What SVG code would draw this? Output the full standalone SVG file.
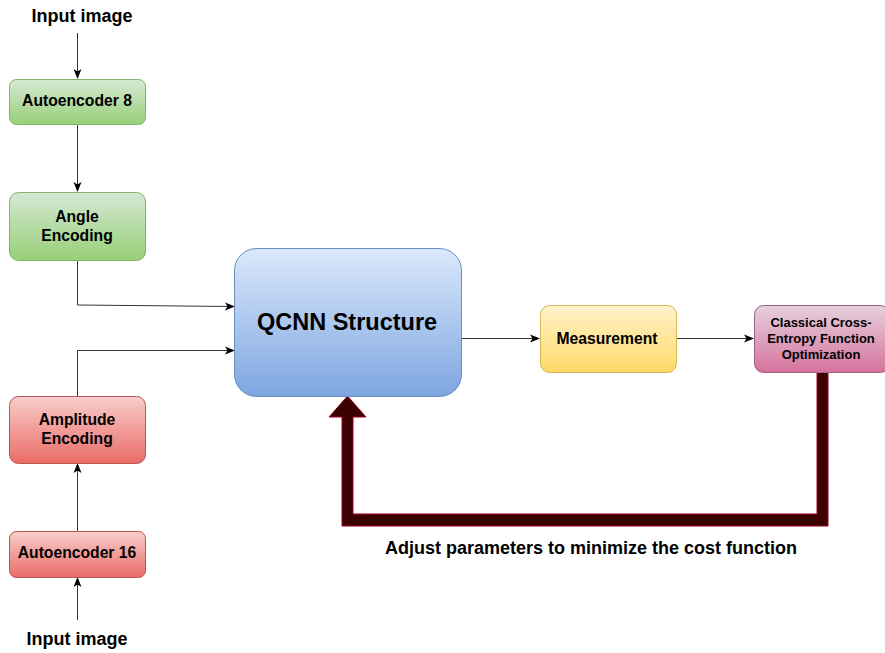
<svg xmlns="http://www.w3.org/2000/svg" width="885" height="653" viewBox="0 0 885 653">
  <defs>
    <linearGradient id="gGreen" x1="0" y1="0" x2="0" y2="1">
      <stop offset="0" stop-color="#d5e8d4"/>
      <stop offset="1" stop-color="#97d077"/>
    </linearGradient>
    <linearGradient id="gRed" x1="0" y1="0" x2="0" y2="1">
      <stop offset="0" stop-color="#f8cecc"/>
      <stop offset="1" stop-color="#ea6b66"/>
    </linearGradient>
    <linearGradient id="gBlue" x1="0" y1="0" x2="0" y2="1">
      <stop offset="0" stop-color="#dae8fc"/>
      <stop offset="1" stop-color="#7ea6e0"/>
    </linearGradient>
    <linearGradient id="gYellow" x1="0" y1="0" x2="0" y2="1">
      <stop offset="0" stop-color="#fff2cc"/>
      <stop offset="1" stop-color="#ffd966"/>
    </linearGradient>
    <linearGradient id="gPink" x1="0" y1="0" x2="0" y2="1">
      <stop offset="0" stop-color="#e6d0de"/>
      <stop offset="1" stop-color="#d5739d"/>
    </linearGradient>
    <marker id="arrow" viewBox="0 0 10 10" refX="9" refY="5" markerWidth="10" markerHeight="10" markerUnits="userSpaceOnUse" orient="auto">
      <path d="M0,1 L10,5 L0,9 L2.5,5 Z" fill="#000"/>
    </marker>
  </defs>
  <style>
    text { font-family: "Liberation Sans", Arial, sans-serif; font-weight: bold; fill: #000; text-anchor: middle; }
    .node { font-size: 15.7px; }
    .small { font-size: 13px; }
    .label { font-size: 18px; }
    .big { font-size: 23.5px; }
    .edge { fill: none; stroke: #333; stroke-width: 1; marker-end: url(#arrow); }
  </style>
  <rect width="885" height="653" fill="#fff"/>

  <!-- connectors -->
  <g id="connectors">
    <path class="edge" d="M77.5,33 V78"/>
    <path class="edge" d="M77.5,124 V191"/>
    <path class="edge" d="M77.5,260 V305 L234,306.5"/>
    <path class="edge" d="M77.5,396 V350.5 H234"/>
    <path class="edge" d="M77.5,531 V464"/>
    <path class="edge" d="M77.5,620 V578"/>
    <path class="edge" d="M461,338.5 H539"/>
    <path class="edge" d="M676,338.5 H753"/>
    <!-- feedback flow arrow -->
    <path d="M817,372 V514 H353 V417 H366 L347.5,396 L329,417 H342 V526 H828 V372 Z" fill="#3b0000" stroke="#a20025" stroke-width="1"/>
  </g>

  <g id="input-top">
    <text class="label" x="82" y="22">Input image</text>
  </g>
  <g id="autoencoder8">
    <rect x="9.5" y="79.5" width="136" height="45" rx="7" fill="url(#gGreen)" stroke="#82b366"/>
    <text class="node" x="77" y="106">Autoencoder 8</text>
  </g>
  <g id="angle-encoding">
    <rect x="9.5" y="192.5" width="136" height="68" rx="9" fill="url(#gGreen)" stroke="#82b366"/>
    <text class="node" x="77" y="222">Angle</text>
    <text class="node" x="77" y="241">Encoding</text>
  </g>
  <g id="amplitude-encoding">
    <rect x="9.5" y="396.5" width="136" height="67" rx="9" fill="url(#gRed)" stroke="#b85450"/>
    <text class="node" x="77" y="425">Amplitude</text>
    <text class="node" x="77" y="444">Encoding</text>
  </g>
  <g id="autoencoder16">
    <rect x="9.5" y="531.5" width="136" height="46" rx="7" fill="url(#gRed)" stroke="#b85450"/>
    <text class="node" x="77" y="558">Autoencoder 16</text>
  </g>
  <g id="input-bottom">
    <text class="label" x="77" y="645">Input image</text>
  </g>
  <g id="qcnn">
    <rect x="234.5" y="248.5" width="227" height="148" rx="22" fill="url(#gBlue)" stroke="#6c8ebf"/>
    <text class="big" x="347" y="330">QCNN Structure</text>
  </g>
  <g id="measurement">
    <rect x="540.5" y="305.5" width="136" height="67" rx="9" fill="url(#gYellow)" stroke="#d6b656"/>
    <text class="node" x="607" y="344">Measurement</text>
  </g>
  <g id="cross-entropy">
    <rect x="754.5" y="305.5" width="135" height="67" rx="9" fill="url(#gPink)" stroke="#996185"/>
    <text class="small" x="821" y="327">Classical Cross-</text>
    <text class="small" x="821" y="343">Entropy Function</text>
    <text class="small" x="821" y="359">Optimization</text>
  </g>
  <g id="feedback-label">
    <text class="label" x="591" y="554">Adjust parameters to minimize the cost function</text>
  </g>
</svg>
